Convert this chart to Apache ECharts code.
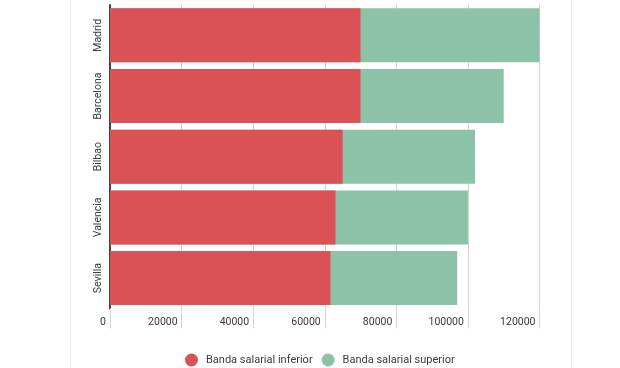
<!DOCTYPE html>
<html>
<head>
<meta charset="utf-8">
<script src="https://cdn.jsdelivr.net/npm/echarts@6/dist/echarts.min.js"></script>
<style>
  html, body { margin: 0; padding: 0; background: #fff; }
  #frame { position: absolute; left: 70px; top: 0; width: 500px; height: 368px; border-left: 1px solid #f0f0f0; border-right: 1px solid #ececec; }
  #chart { position: absolute; left: 0; top: 0; width: 620px; height: 368px; }
</style>
</head>
<body>
<div id="frame"></div>
<div id="chart"></div>
<script>
const categories = ['Madrid', 'Barcelona', 'Bilbao', 'Valencia', 'Sevilla'];
const lowerBand = [70000, 70000, 65000, 63000, 61600];
const upperBand = [120000, 110000, 102000, 100000, 97000];
const seriesNames = ['Banda salarial inferior', 'Banda salarial superior'];
const xTicks = { min: 0, max: 120000, interval: 20000 };

const chart = echarts.init(document.getElementById('chart'), null, { renderer: 'canvas' });
chart.setOption({
  backgroundColor: 'transparent',
  animation: false,
  textStyle: { fontFamily: 'Roboto' },
  grid: { left: 110, right: 80.5, top: 5, bottom: 59.6 },
  legend: {
    data: seriesNames,
    left: 180, top: 348.5,
    icon: 'circle', itemWidth: 13, itemHeight: 13, itemGap: 9,
    textStyle: { fontFamily: 'Roboto', fontSize: 11, color: '#3a3a3a', padding: [0, 0, 0, 3] }
  },
  xAxis: {
    type: 'value', min: xTicks.min, max: xTicks.max, interval: xTicks.interval,
    axisLine: { show: false },
    axisTick: { show: true, length: 20, lineStyle: { color: '#d4d4d4', width: 1 } },
    splitLine: { show: true, lineStyle: { color: '#d4d4d4', width: 1 } },
    axisLabel: {
      show: true, align: 'right', margin: 8, padding: [0, 4, 0, 0],
      fontFamily: 'Roboto', fontSize: 10.5, color: '#3a3a3a',
      showMinLabel: true, showMaxLabel: true,
      formatter: function (v) { return String(v); }
    }
  },
  yAxis: {
    type: 'category', data: categories, inverse: true,
    axisLine: { show: true, lineStyle: { color: '#444', width: 2 } },
    axisTick: { show: false },
    axisLabel: { interval: 0, rotate: 90, margin: 6, fontFamily: 'Roboto', fontSize: 10.5, color: '#3a3a3a' }
  },
  series: [
    {
      name: seriesNames[1], type: 'bar', data: upperBand,
      barCategoryGap: '11%', barGap: '-100%',
      itemStyle: { color: '#8cc2a7' }, z: 2
    },
    {
      name: seriesNames[0], type: 'bar', data: lowerBand,
      barCategoryGap: '11%', barGap: '-100%',
      itemStyle: { color: '#da5256' }, z: 3
    }
  ]
});
</script>
</body>
</html>
